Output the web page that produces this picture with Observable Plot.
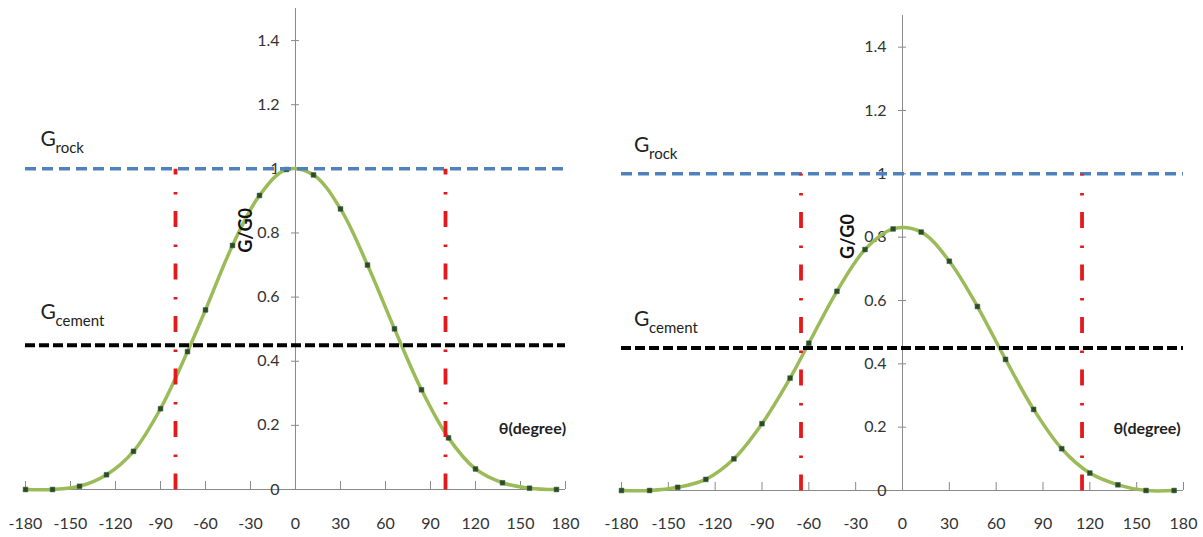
<!DOCTYPE html>
<html><head><meta charset="utf-8">
<script src="https://cdn.jsdelivr.net/npm/d3@7"></script>
<script src="https://cdn.jsdelivr.net/npm/@observablehq/plot@0.6"></script>
<style>
body{margin:0;background:#fff}
#wrap{position:relative;width:1203px;height:537px;overflow:hidden;background:#fff}
#wrap svg{position:absolute;top:0}
</style>
</head><body><div id="wrap"></div>
<script>
// θ (degree) of the plotted points (same in both panels)
const theta = [-180, -162, -144, -126, -108, -90, -72, -60, -42, -24, -6, 12, 30, 48, 66, 84, 102, 120, 138, 156, 174];
// G/G0 values, left panel
const gLeft = [0, 0, 0.010, 0.046, 0.119, 0.252, 0.430, 0.560, 0.761, 0.917, 0.998, 0.981, 0.875, 0.700, 0.501, 0.311, 0.161, 0.064, 0.021, 0.004, 0];
// G/G0 values, right panel
const gRight = [0, 0, 0.010, 0.035, 0.100, 0.211, 0.355, 0.465, 0.629, 0.761, 0.826, 0.816, 0.724, 0.581, 0.414, 0.256, 0.132, 0.055, 0.018, 0, 0];
// reference levels
const gRock = 1.0;
const gCement = 0.45;
// red dash-dot cut angles
const cutsLeft = [-80, 100];
const cutsRight = [-65, 115];
// tick labels
const xTicks = [-180, -150, -120, -90, -60, -30, 0, 30, 60, 90, 120, 150, 180];
const yTicks = [0, 0.2, 0.4, 0.6, 0.8, 1, 1.2, 1.4];
const yLabel = "G/G0";
const xLabel = "θ(degree)";
const rockLabel = ["G", "rock"];
const cementLabel = ["G", "cement"];

function levelText(label, value, x, dy) {
  return [
    Plot.text([value], {x: x, y: d => d, dy: dy, text: () => label[0], textAnchor: "start", lineAnchor: "bottom", fontSize: 21, fill: "#222"}),
    Plot.text([value], {x: x, y: d => d, dx: 15, dy: dy + 7, text: () => label[1], textAnchor: "start", lineAnchor: "bottom", fontSize: 15, fill: "#222"})
  ];
}

function panel(o) {
  const rows = theta.map((t, i) => ({theta: t, g: o.values[i]}));
  const pxDeg = (o.width - o.ml - o.mr) / 360;
  const pxUnit = (537 - o.mt - o.mb) / 1.5;
  const tickW = 4 / pxDeg, tickH = 8 / pxUnit;
  const axisColor = "#8a8a8a";
  const font = "Lato, 'Open Sans', sans-serif";
  const svg = Plot.plot({
    width: o.width, height: 537,
    marginLeft: o.ml, marginRight: o.mr, marginTop: o.mt, marginBottom: o.mb,
    x: {domain: [-180, 180], axis: null},
    y: {domain: [0, 1.5], axis: null},
    style: {fontFamily: font, fontSize: "16px", background: "transparent", overflow: "visible"},
    marks: [
      Plot.ruleX([0], {y1: 0, y2: 1.5, stroke: axisColor, strokeWidth: 1}),
      Plot.ruleY([0], {x1: -180, x2: 180, stroke: axisColor, strokeWidth: 1}),
      Plot.ruleX(xTicks, {x: d => d, y1: 0, y2: tickH, stroke: axisColor, strokeWidth: 1}),
      Plot.ruleY(yTicks, {y: d => d, x1: -tickW, x2: tickW, stroke: axisColor, strokeWidth: 1}),
      Plot.text(xTicks, {x: d => d, y: 0, dy: o.xLabDy, text: d => String(d), fill: "#333", fontSize: 16, lineAnchor: "middle"}),
      Plot.text(yTicks, {x: 0, y: d => d, dx: -16, textAnchor: "end", text: d => String(d), fill: "#333", fontSize: 16, lineAnchor: "middle"}),
      Plot.line(rows, {x: "theta", y: "g", stroke: "#9bbb59", strokeWidth: 3.5, curve: "catmull-rom"}),
      Plot.dot(rows, {x: "theta", y: "g", symbol: "square", r: 2.7, fill: "#2b4a2b", stroke: "#3d6b3d", strokeWidth: 0.5}),
      Plot.ruleY([gRock], {y: d => d, stroke: "#4f81bd", strokeWidth: 3.5, strokeDasharray: "11,6"}),
      Plot.ruleY([gCement], {y: d => d, stroke: "#000", strokeWidth: 4, strokeDasharray: "10,4"}),
      Plot.link(o.cuts, {x1: d => d, x2: d => d, y1: 0, y2: gRock, stroke: "#e3191c", strokeWidth: 3.8, strokeDasharray: "16,16.5,2.5,17.5"}),
      ...levelText(rockLabel, gRock, o.labX, o.rockDy),
      ...levelText(cementLabel, gCement, o.labX, o.cemDy),
      Plot.text([yLabel], {x: o.yLabX, y: o.yLabY, text: d => d, rotate: -90, fontSize: 18, fontWeight: "bold", fill: "#111", lineAnchor: "middle"}),
      Plot.text([xLabel], {x: o.xLabX, y: o.xLabY, text: d => d, textAnchor: "start", fontSize: 16, fontWeight: "bold", fill: "#222", lineAnchor: "middle"})
    ]
  });
  svg.style.left = o.left + "px";
  document.getElementById("wrap").appendChild(svg);
}

panel({values: gLeft, cuts: cutsLeft, left: 0, width: 600, ml: 25, mr: 35, mt: 8, mb: 48,
  xLabDy: 34, labX: -170, rockDy: -23, cemDy: -26, yLabX: -33, yLabY: 0.808, xLabX: 135.5, xLabY: 0.19});
panel({values: gRight, cuts: cutsRight, left: 600, width: 603, ml: 21, mr: 20, mt: 15, mb: 47,
  xLabDy: 33, labX: -172, rockDy: -22, cemDy: -22, yLabX: -35, yLabY: 0.802, xLabX: 135.1, xLabY: 0.196});
</script>
</body></html>
